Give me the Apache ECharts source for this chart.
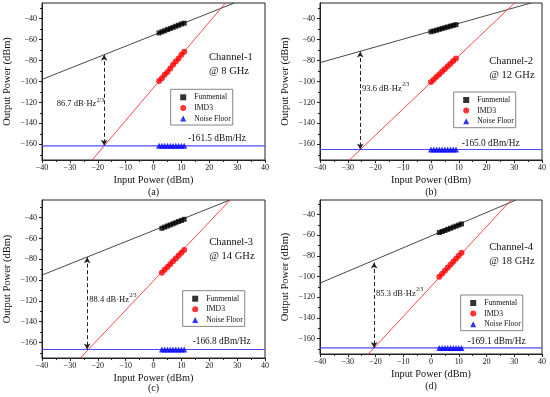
<!DOCTYPE html>
<html><head><meta charset="utf-8">
<script src="https://cdn.jsdelivr.net/npm/echarts@6/dist/echarts.min.js"></script>
<style>html,body{margin:0;padding:0;background:#fff}#c{width:550px;height:397px}</style>
</head><body><div id="c"></div>
<script>
const FONT = "'Liberation Serif','Times New Roman',serif";
const xTicks = [-40, -30, -20, -10, 0, 10, 20, 30, 40];
const yTicks = [-160, -140, -120, -100, -80, -60, -40];
const yMinorTicks = [-170, -150, -130, -110, -90, -70, -50, -30];
const panelLabels = ['(a)', '(b)', '(c)', '(d)'];
const channelNames = ['Channel-1', 'Channel-2', 'Channel-3', 'Channel-4'];
const channelFreqs = ['@ 8 GHz', '@ 12 GHz', '@ 14 GHz', '@ 18 GHz'];
const noiseFloors = [-161.5, -165.0, -166.8, -169.1];
const noiseFloorLabels = ['-161.5 dBm/Hz', '-165.0 dBm/Hz', '-166.8 dBm/Hz', '-169.1 dBm/Hz'];
const sfdrLabels = ['86.7 dB·Hz', '93.6 dB·Hz', '88.4 dB·Hz', '85.3 dB·Hz'];
const sfdrExp = '2/3';
const yMin = [-175, -175, -175, -175];
const yMax = [-25, -25, -23, -26];

// Panel (a) Channel-1 @ 8 GHz
const fundX_a = [2, 3, 4, 5, 6, 7, 8, 9, 10, 11];
const fundY_a = [-53.6, -52.5, -51.5, -50.4, -49.4, -48.3, -47.2, -46.2, -45.1, -44.3];
const imdX_a = [2, 3, 4, 5, 6, 7, 8, 9, 10, 11];
const imdY_a = [-99.5, -96.8, -93.5, -91.0, -87.5, -84.0, -81.0, -78.0, -74.5, -71.5];
const noiseX_a = [2, 3, 4, 5, 6, 7, 8, 9, 10, 11];
const fundLineX_a = [-40, 29];
const fundLineY_a = [-98, -25];
const imdLineX_a = [-22, 25.8];
const imdLineY_a = [-175, -25];
const arrowX_a = -17.7, arrowTop_a = -74.5;

// Panel (b) Channel-2 @ 12 GHz
const fundX_b = [0, 1, 2, 3, 4, 5, 6, 7, 8, 9];
const fundY_b = [-52.5, -51.7, -51.0, -50.2, -49.4, -48.6, -47.9, -47.1, -46.4, -45.7];
const imdX_b = [0, 1, 2, 3, 4, 5, 6, 7, 8, 9];
const imdY_b = [-100.5, -98.0, -95.5, -93.0, -90.5, -88.0, -85.5, -83.0, -80.5, -78.0];
const noiseX_b = [0, 1, 2, 3, 4, 5, 6, 7, 8, 9];
const fundLineX_b = [-40, 36];
const fundLineY_b = [-82, -25];
const imdLineX_b = [-29.4, 30.1];
const imdLineY_b = [-175, -25];
const arrowX_b = -25.5, arrowTop_b = -71.3;

// Panel (c) Channel-3 @ 14 GHz
const fundX_c = [3, 4, 5, 6, 7, 8, 9, 10, 11];
const fundY_c = [-50.2, -49.1, -48.0, -47.0, -45.9, -44.8, -43.7, -42.7, -41.6];
const imdX_c = [3, 4, 5, 6, 7, 8, 9, 10, 11];
const imdY_c = [-93.0, -90.2, -87.5, -84.7, -82.0, -79.2, -76.5, -73.7, -71.0];
const noiseX_c = [3, 4, 5, 6, 7, 8, 9, 10, 11];
const fundLineX_c = [-40, 27.4];
const fundLineY_c = [-95.2, -23];
const imdLineX_c = [-26.4, 27.5];
const imdLineY_c = [-175.4, -23];
const arrowX_c = -23.8, arrowTop_c = -78.0;

// Panel (d) Channel-4 @ 18 GHz
const fundX_d = [3, 4, 5, 6, 7, 8, 9, 10, 11];
const fundY_d = [-57.5, -56.5, -55.5, -54.4, -53.4, -52.3, -51.3, -50.2, -49.2];
const imdX_d = [3, 4, 5, 6, 7, 8, 9, 10, 11];
const imdY_d = [-100.3, -97.4, -94.5, -91.6, -88.7, -85.8, -82.9, -80.0, -77.1];
const noiseX_d = [3, 4, 5, 6, 7, 8, 9, 10, 11];
const fundLineX_d = [-40, 30.6];
const fundLineY_d = [-106.4, -26];
const imdLineX_d = [-22.7, 28.9];
const imdLineY_d = [-175.4, -26];
const arrowX_d = -20.5, arrowTop_d = -86.5;

const panels = [
  {fx: fundX_a, fy: fundY_a, ix: imdX_a, iy: imdY_a, nx: noiseX_a, flx: fundLineX_a, fly: fundLineY_a, ilx: imdLineX_a, ily: imdLineY_a, ax: arrowX_a, at: arrowTop_a},
  {fx: fundX_b, fy: fundY_b, ix: imdX_b, iy: imdY_b, nx: noiseX_b, flx: fundLineX_b, fly: fundLineY_b, ilx: imdLineX_b, ily: imdLineY_b, ax: arrowX_b, at: arrowTop_b},
  {fx: fundX_c, fy: fundY_c, ix: imdX_c, iy: imdY_c, nx: noiseX_c, flx: fundLineX_c, fly: fundLineY_c, ilx: imdLineX_c, ily: imdLineY_c, ax: arrowX_c, at: arrowTop_c},
  {fx: fundX_d, fy: fundY_d, ix: imdX_d, iy: imdY_d, nx: noiseX_d, flx: fundLineX_d, fly: fundLineY_d, ilx: imdLineX_d, ily: imdLineY_d, ax: arrowX_d, at: arrowTop_d}
];

// layout (pixels)
const gridPos = [
  {left: 42, top: 3, width: 223, height: 157},
  {left: 320, top: 3, width: 222, height: 157},
  {left: 42, top: 200, width: 223, height: 158},
  {left: 320, top: 200, width: 222, height: 154}
];
const legendPos = [[170.7, 89.3], [453.7, 92], [182.7, 290.7], [460.7, 295]];
const channelPos = [[209, 57.3], [489.3, 61.7], [209.3, 242.7], [489.3, 247.3]];
const noiseLabelPos = [[188, 138.5], [461.7, 144], [192.7, 341.7], [467.7, 341.7]];
const sfdrPos = [[56.7, 104], [362, 88.3], [89.3, 299.3], [376, 293.3]];
const panelLabelY = [192.5, 192.5, 388.3, 386.7];

const zip = (a, b) => a.map((v, i) => [v, b[i]]);
const minus = v => String(v).replace('-', '\u2212');
const measure = (() => {
  const ctx = document.createElement('canvas').getContext('2d');
  return (t, f) => { ctx.font = f; return ctx.measureText(t).width; };
})();

const grid = [], xAxis = [], yAxis = [], series = [], legend = [], graphic = [];
panels.forEach((p, i) => {
  const g = gridPos[i];
  grid.push({left: g.left, top: g.top, width: g.width, height: g.height, show: true, borderColor: '#222', borderWidth: 1, backgroundColor: 'transparent'});
  xAxis.push({
    gridIndex: i, type: 'value', min: xTicks[0], max: xTicks[xTicks.length - 1], interval: 10,
    axisLine: {show: true, onZero: false, lineStyle: {color: '#222', width: 1}},
    axisTick: {show: true, length: 3, lineStyle: {color: '#222'}},
    minorTick: {show: true, splitNumber: 2, length: 2, lineStyle: {color: '#222'}},
    axisLabel: {fontFamily: FONT, fontSize: 8, color: '#111', margin: 4, formatter: minus},
    splitLine: {show: false},
    name: 'Input Power (dBm)', nameLocation: 'middle', nameGap: 15,
    nameTextStyle: {fontFamily: FONT, fontSize: 10.3, color: '#111'}
  });
  yAxis.push({
    gridIndex: i, type: 'value', min: yMin[i], max: yMax[i],
    axisLine: {show: true, onZero: false, lineStyle: {color: '#222', width: 1}},
    axisTick: {show: true, length: 3, customValues: yTicks, lineStyle: {color: '#222'}},
    axisLabel: {fontFamily: FONT, fontSize: 8, color: '#111', margin: 5, formatter: minus, customValues: yTicks},
    splitLine: {show: false},
    name: 'Output Power (dBm)', nameLocation: 'middle', nameGap: 29,
    nameTextStyle: {fontFamily: FONT, fontSize: 10.5, color: '#111'}
  });
});
panels.forEach((p, i) => {
  yAxis.push({
    gridIndex: i, type: 'value', min: yMin[i], max: yMax[i], position: 'left',
    axisLine: {show: false, onZero: false},
    axisTick: {show: true, length: 2, customValues: yMinorTicks, lineStyle: {color: '#222'}},
    axisLabel: {show: false}, splitLine: {show: false}
  });
});

panels.forEach((p, i) => {
  const nf = noiseFloors[i];
  const common = {xAxisIndex: i, yAxisIndex: i, silent: true};
  series.push(Object.assign({type: 'line', data: zip(p.flx, p.fly), symbol: 'none', clip: true,
    lineStyle: {color: '#333', width: 0.9}, z: 2,
    markLine: {silent: true, symbol: ['arrow', 'arrow'], symbolSize: [5, 6], precision: 2,
      lineStyle: {type: [4, 2.5], color: '#222', width: 1}, label: {show: false},
      data: [[{coord: [p.ax, p.at]}, {coord: [p.ax, nf]}]]}
  }, common));
  series.push(Object.assign({type: 'line', data: zip(p.ilx, p.ily), symbol: 'none', clip: true,
    lineStyle: {color: '#ff3333', width: 0.9}, z: 2}, common));
  series.push(Object.assign({type: 'line', data: [[-40, nf], [40, nf]], symbol: 'none', clip: true,
    lineStyle: {color: '#4d4dff', width: 1.1}, z: 2}, common));
  series.push(Object.assign({type: 'scatter', name: 'Funmental', data: zip(p.fx, p.fy), symbol: 'rect', symbolSize: 5,
    itemStyle: {color: '#000'}, z: 5}, common));
  series.push(Object.assign({type: 'scatter', name: 'IMD3', data: zip(p.ix, p.iy), symbol: 'circle', symbolSize: 6,
    itemStyle: {color: '#ff0000'}, z: 5}, common));
  series.push(Object.assign({type: 'scatter', name: 'Noise Floor', data: p.nx.map(x => [x, nf]), symbol: 'triangle', symbolSize: 6,
    itemStyle: {color: '#0000ff'}, z: 5}, common));

  legend.push({
    left: legendPos[i][0], top: legendPos[i][1], orient: 'vertical', selectedMode: false,
    data: [{name: 'Funmental', icon: 'rect'}, {name: 'IMD3', icon: 'circle'}, {name: 'Noise Floor', icon: 'triangle'}],
    itemWidth: 6, itemHeight: 6, itemGap: 2.6,
    padding: [4, 2, 2.5, 9.5], borderColor: '#666', borderWidth: 0.8,
    textStyle: {fontFamily: FONT, fontSize: 7.7, color: '#111', lineHeight: 8, padding: [0, 0, 0, 3]}
  });

  const cf = '10.5px ' + FONT;
  graphic.push({type: 'text', silent: true, style: {text: channelNames[i], x: channelPos[i][0], y: channelPos[i][1], font: cf, fill: '#111', verticalAlign: 'middle'}});
  graphic.push({type: 'text', silent: true, style: {text: channelFreqs[i], x: channelPos[i][0], y: channelPos[i][1] + 14, font: cf, fill: '#111', verticalAlign: 'middle'}});
  const nfFont = '9.3px ' + FONT;
  graphic.push({type: 'text', silent: true, style: {text: noiseFloorLabels[i], x: noiseLabelPos[i][0], y: noiseLabelPos[i][1], font: nfFont, fill: '#111', verticalAlign: 'middle'}});
  const sf = '8.5px ' + FONT;
  const w = measure(sfdrLabels[i], sf);
  graphic.push({type: 'text', silent: true, style: {text: sfdrLabels[i], x: sfdrPos[i][0], y: sfdrPos[i][1], font: sf, fill: '#111', verticalAlign: 'middle'}});
  graphic.push({type: 'text', silent: true, style: {text: sfdrExp, x: sfdrPos[i][0] + w + 0.5, y: sfdrPos[i][1] - 3.5, font: '5.5px ' + FONT, fill: '#111', verticalAlign: 'middle'}});
  const g = gridPos[i];
  graphic.push({type: 'text', silent: true, style: {text: panelLabels[i], x: g.left + g.width / 2, y: panelLabelY[i], font: '10px ' + FONT, fill: '#111', align: 'center', verticalAlign: 'middle'}});
});

const chart = echarts.init(document.getElementById('c'), null, {renderer: 'canvas'});
chart.setOption({
  animation: false, backgroundColor: '#fff',
  textStyle: {fontFamily: FONT},
  grid, xAxis, yAxis, series, legend, graphic
});
</script></body></html>
